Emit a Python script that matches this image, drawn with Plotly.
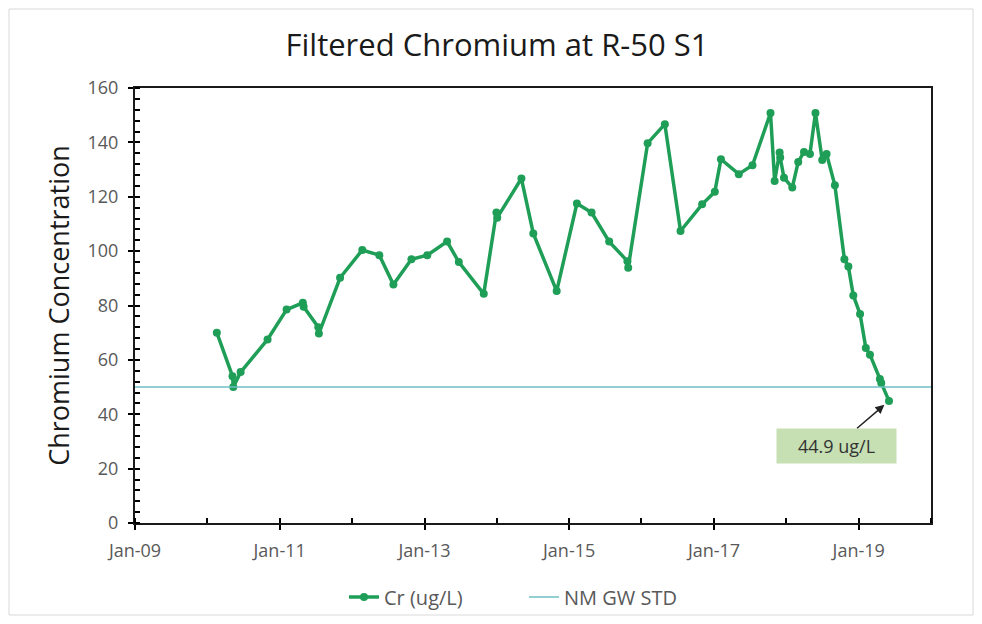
import plotly.graph_objects as go

# ---- data ----
dates = [
    "2010-02-18", "2010-05-08", "2010-05-12", "2010-06-18", "2010-11-01",
    "2011-02-05", "2011-04-28", "2011-05-02", "2011-07-15", "2011-07-18",
    "2011-11-02", "2012-02-22", "2012-05-18", "2012-07-28", "2012-10-27",
    "2013-01-15", "2013-04-25", "2013-06-23", "2013-10-27", "2013-12-30",
    "2014-01-03", "2014-05-05", "2014-07-04", "2014-10-30", "2015-02-09",
    "2015-04-24", "2015-07-22", "2015-10-22", "2015-10-26", "2016-02-01",
    "2016-04-28", "2016-07-16", "2016-11-02", "2017-01-05", "2017-02-05",
    "2017-05-06", "2017-07-14", "2017-10-13", "2017-11-03", "2017-11-28",
    "2017-12-01", "2017-12-20", "2018-01-31", "2018-03-02", "2018-03-31",
    "2018-04-30", "2018-05-28", "2018-07-01", "2018-07-23", "2018-09-03",
    "2018-10-21", "2018-11-10", "2018-12-05", "2019-01-08", "2019-02-06",
    "2019-02-27", "2019-04-18", "2019-04-25", "2019-06-03",
]
cr_values = [
    70, 54, 50, 55.5, 67.5,
    78.5, 81, 79.5, 72, 69.7,
    90.2, 100.4, 98.5, 87.7, 97,
    98.5, 103.5, 96, 84.3, 114.2,
    112.3, 126.7, 106.5, 85.3, 117.5,
    114.2, 103.5, 96.3, 93.9, 139.7,
    146.7, 107.4, 117.2, 121.8, 133.8,
    128.3, 131.6, 150.8, 125.8, 136.3,
    134.4, 127, 123.4, 132.8, 136.5,
    135.7, 150.8, 133.5, 135.7, 124.2,
    97, 94.3, 83.7, 76.9, 64.4,
    61.9, 53, 51.5, 44.9,
]
std_dates = ["2009-01-01", "2020-01-01"]
std_values = [50, 50]

last_label = "44.9 ug/L"
label_x = "2018-09-12"
label_y = 28.4

FONT = "Open Sans"
TXT = "#595959"
GREEN = "#1f9e57"

W, H = 966, 608
L, R, T, B = 127, 43, 80, 93
PW, PH = W - L - R, H - T - B

fig = go.Figure()
fig.add_trace(go.Scatter(
    x=dates, y=cr_values, mode="lines+markers", name="Cr (ug/L)",
    line=dict(color=GREEN, width=3.5),
    marker=dict(color=GREEN, size=8),
))
fig.add_trace(go.Scatter(
    x=std_dates, y=std_values, mode="lines", name="NM GW STD",
    line=dict(color="#6cbfc4", width=1.5),
))

fig.add_annotation(
    x=dates[-1], y=cr_values[-1], ax=label_x, ay=label_y,
    xref="x", yref="y", axref="x", ayref="y",
    text=last_label, showarrow=True, arrowhead=2, arrowsize=1.2,
    arrowwidth=1.5, arrowcolor="#222222", standoff=6,
    bgcolor="#c6e0b4", width=111, height=26, borderpad=4,
    font=dict(family=FONT, size=18, color="#333333"),
)

# outer chart border
fig.add_shape(type="rect", xref="paper", yref="paper",
              x0=-(L - 1) / PW, x1=(W - 1 - L) / PW,
              y0=-(H - 1 - (T + PH)) / PH, y1=1 + (T - 1) / PH,
              line=dict(color="#d9d9d9", width=1), layer="below")

fig.update_layout(
    width=W, height=H,
    margin=dict(l=L, r=R, t=T, b=B, autoexpand=False),
    paper_bgcolor="white", plot_bgcolor="white",
    font=dict(family=FONT, color=TXT),
    title=dict(text="Filtered Chromium at R-50 S1", x=(497 - 8) / W, xanchor="center",
               y=1 - 37 / H, yanchor="middle",
               font=dict(family=FONT, size=31, color="#1a1a1a")),
    showlegend=True,
    legend=dict(orientation="h", x=(516 - L) / PW, xanchor="center",
                y=-(589 - (T + PH)) / PH, yanchor="middle",
                font=dict(family=FONT, size=20, color=TXT),
                entrywidth=135, entrywidthmode="pixels",
                bgcolor="rgba(0,0,0,0)"),
    hovermode=False,
)
fig.update_xaxes(
    range=["2009-01-01", "2020-01-01"], type="date",
    tick0="2009-01-01", dtick="M24", tickformat="%b-%y",
    ticks="outside", ticklen=5, tickwidth=1.5, tickcolor="black",
    minor=dict(dtick="M12", ticks="inside", ticklen=5, tickwidth=1.5, tickcolor="black"),
    showline=True, linecolor="#1a1a1a", linewidth=2, mirror=True,
    showgrid=False, zeroline=False, ticklabelstandoff=5,
    tickfont=dict(family=FONT, size=18, color=TXT),
)
fig.update_yaxes(
    range=[0, 160], dtick=20,
    ticks="outside", ticklen=5, tickwidth=1.5, tickcolor="black",
    minor=dict(dtick=4, ticks="inside", ticklen=5, tickwidth=1.5, tickcolor="black"),
    showline=True, linecolor="#1a1a1a", linewidth=2, mirror=True,
    showgrid=False, zeroline=False, ticklabelstandoff=6,
    tickfont=dict(family=FONT, size=18, color=TXT),
    title=dict(text="Chromium Concentration", standoff=10,
               font=dict(family=FONT, size=27, color="#1a1a1a")),
)

fig.write_html("out.html")
